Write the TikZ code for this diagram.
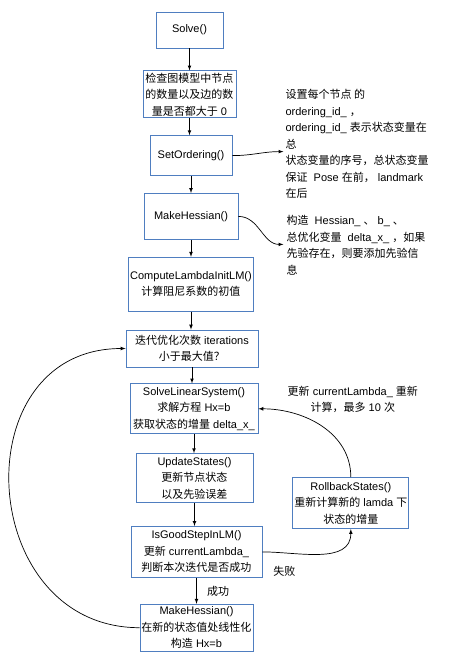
\documentclass[tikz,border=0pt]{standalone}
\usepackage{fontspec}
\setmainfont{Liberation Sans}
\newfontfamily\zhfont{Noto Sans CJK SC}
\newcommand{\zh}[1]{{\zhfont #1}}
\usepackage{tikz}
\definecolor{boxblue}{HTML}{4F7EC0}
\usetikzlibrary{arrows,positioning}

\begin{document}
\begin{tikzpicture}[>=latex,
		box/.style={draw=boxblue, line width=0.8pt, align=center, inner sep=1.5pt, font=\fontsize{11pt}{16.5pt}\selectfont},
		note/.style={align=left, inner sep=0pt, anchor=west, font=\fontsize{11pt}{16.5pt}\selectfont},
		lbl/.style={align=center, inner sep=0pt, font=\fontsize{11pt}{16.5pt}\selectfont},
		flow/.style={->, line width=0.7pt}]
		\path[use as bounding box] (-189.5pt,30pt) rectangle (260.5pt,-623pt);
		
		\node[box, minimum width=67pt, minimum height=36pt] (solve) at (0,0) {Solve()};
		\node[box, minimum width=93pt, minimum height=47pt, below=22pt of solve] (check) {\zh{检查图模型中节点}\\\zh{的数量以及边的数}\\\zh{量是否都大于} 0};
		\node[box, minimum width=82pt, minimum height=40pt, below=17pt of check, xshift=1.5pt] (setord) {SetOrdering()};
		\node[box, minimum width=94pt, minimum height=46pt, below=17pt of setord] (hess) {MakeHessian()};
		\node[box, minimum width=124pt, minimum height=54pt, below=17pt of hess] (initlm) {ComputeLambdaInitLM()\\\zh{计算阻尼系数的初值}};
		\node[box, minimum width=132pt, minimum height=37pt, below=18pt of initlm, xshift=1pt] (iter) {\zh{迭代优化次数} iterations\\\zh{小于最大值？}};
		\node[box, minimum width=128pt, minimum height=50pt, below=16pt of iter, xshift=2pt] (solvels) {SolveLinearSystem()\\\zh{求解方程} Hx=b\\\zh{获取状态的增量} delta\_x\_};
		\node[box, minimum width=117pt, minimum height=49pt, below=19pt of solvels, xshift=0.5pt] (update) {UpdateStates()\\\zh{更新节点状态}\\\zh{以及先验误差}};
		\node[box, minimum width=131pt, minimum height=51pt, below=23pt of update, xshift=2pt] (isgood) {IsGoodStepInLM()\\\zh{更新} currentLambda\_\\\zh{判断本次迭代是否成功}};
		\node[box, minimum width=109pt, minimum height=47pt, below=26pt of isgood] (hess2) {MakeHessian()\\\zh{在新的状态值处线性化}\\\zh{构造} Hx=b};
		\node[box, minimum width=116pt, minimum height=51pt, right=39pt of update, yshift=-25pt] (rollback) {RollbackStates()\\\zh{重新计算新的} lamda \zh{下}\\\zh{状态的增量}};
		
		% side notes
		\node[note] (ordnote) at ([xshift=53pt, yshift=11.5pt]setord.east) {\zh{设置每个节点 的}\\ordering\_id\_ \zh{，}\\ordering\_id\_ \zh{表示状态变量在}\\\zh{总}\\\zh{状态变量的序号，总状态变量}\\\zh{保证} ~Pose \zh{在前，} landmark\\\zh{在后}};
		\node[note] (hessnote) at ([xshift=48pt, yshift=-29pt]hess.east) {\zh{构造} ~Hessian\_ \zh{、} b\_ \zh{、}\\\zh{总优化变量} ~delta\_x\_ \zh{，如果}\\\zh{先验存在，则要添加先验信}\\\zh{息}};
		\coordinate (ordtip) at ([xshift=-2pt, yshift=-7.5pt]ordnote.west);
		\coordinate (hesstip) at ([xshift=-3pt, yshift=1pt]hessnote.west);
		
		% labels
		\node[lbl] (retry) at ([xshift=2pt, yshift=78pt]rollback.north) {\zh{更新} currentLambda\_ \zh{重新}\\\zh{计算，最多} 10 \zh{次}};
		\node[lbl] (fail) at ([xshift=22pt, yshift=-19.5pt]isgood.east) {\zh{失败}};
		\node[lbl] (ok) at ([xshift=21.5pt, yshift=-14pt]isgood.south) {\zh{成功}};
		
		% main column
		\draw[flow] (solve) -- (solve |- check.north);
		\draw[flow] (check) -- (check |- setord.north);
		\draw[flow] (setord) -- (setord |- hess.north);
		\draw[flow] (hess) -- (hess |- initlm.north);
		\draw[flow] (initlm) -- (initlm |- iter.north);
		\draw[flow] (iter) -- (iter |- solvels.north);
		\draw[flow] (solvels) -- (solvels |- update.north);
		\draw[flow] (update) -- (update |- isgood.north);
		\draw[flow] (isgood) -- (isgood |- hess2.north);
		
		\draw[flow] (setord.east) to[out=0, in=180] (ordtip);
		\draw[flow] (hess.east) to[out=0, in=180] (hesstip);
		
		\draw[flow] (isgood.east) to[out=0, in=-90] (rollback.south); % fail
		\draw[flow] (rollback.north) to[out=90, in=0] (solvels.east); % retry
		\draw[flow] (hess2.west) to[out=180, in=180, looseness=1.5] (iter.west); % next iteration
	\end{tikzpicture}
\end{document}
